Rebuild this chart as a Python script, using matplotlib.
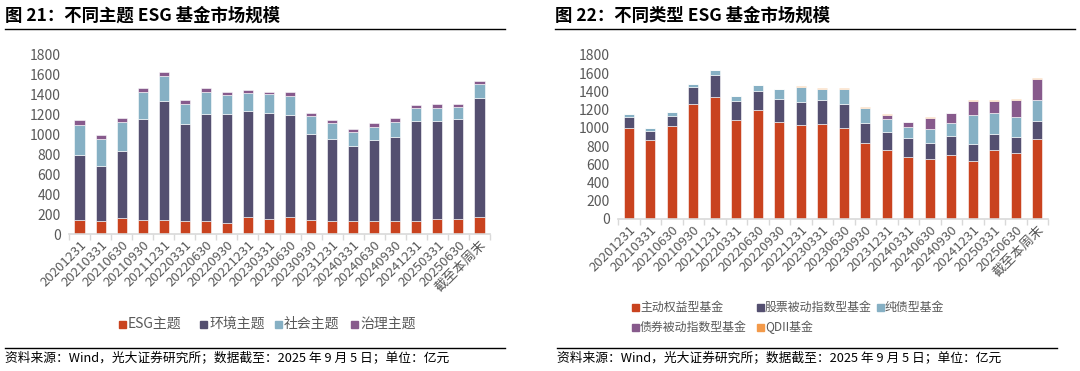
import numpy as np
import matplotlib
matplotlib.use('Agg')
import matplotlib.pyplot as plt
from matplotlib.patches import Rectangle

plt.rcParams['font.family'] = ['Noto Sans CJK SC', 'DejaVu Sans']

periods = ['20201231', '20210331', '20210630', '20210930', '20211231', '20220331',
           '20220630', '20220930', '20221231', '20230331', '20230630', '20230930',
           '20231231', '20240331', '20240630', '20240930', '20241231', '20250331',
           '20250630', '截至本周末']

# 图21：按主题（亿元）
esg_theme = [144, 134, 160, 144, 144, 127, 134, 114, 170, 150, 170, 144, 127, 134, 134, 134, 134, 147, 154, 170]
env_theme = [651, 551, 675, 1015, 1192, 979, 1075, 1088, 1066, 1066, 1022, 861, 825, 754, 811, 845, 998, 992, 998, 1193]
soc_theme = [301, 267, 294, 271, 254, 203, 221, 191, 180, 187, 194, 177, 164, 137, 134, 150, 137, 130, 127, 143]
gov_theme = [50, 40, 33, 40, 37, 37, 40, 30, 30, 27, 37, 34, 30, 34, 33, 33, 27, 34, 30, 37]

# 图22：按类型（亿元）
active_eq = [1004, 862, 1022, 1260, 1344, 1088, 1198, 1062, 1030, 1048, 1004, 836, 759, 683, 654, 705, 639, 759, 723, 876]
stock_idx = [113, 106, 113, 189, 241, 208, 208, 256, 255, 255, 263, 223, 201, 201, 182, 204, 182, 179, 179, 205]
pure_bond = [33, 29, 37, 30, 47, 59, 69, 113, 161, 125, 161, 160, 139, 131, 150, 146, 325, 230, 223, 222]
bond_idx = [0, 0, 0, 0, 0, 0, 0, 0, 0, 0, 0, 0, 47, 47, 128, 106, 150, 128, 186, 238]
qdii = [0, 0, 0, 0, 0, 0, 0, 0, 10, 10, 10, 11, 8, 8, 7, 7, 7, 7, 7, 7]

c_red = '#C9431F'
c_navy = '#544F70'
c_blue = '#86B0C4'
c_purple = '#875A8C'
c_orange = '#F39A4A'
grey = '#595959'

W, H = 1080, 371
fig = plt.figure(figsize=(10.8, 3.71), dpi=100)


def stacked(ax, series, colors, width):
    x = np.arange(len(periods))
    bottom = np.zeros(len(periods))
    for vals, col in zip(series, colors):
        v = np.array(vals, dtype=float)
        ax.bar(x, v, width, bottom=bottom, color=col, edgecolor='white', linewidth=0.4)
        bottom += v
    ax.set_xlim(-0.5, len(periods) - 0.5)
    ax.set_ylim(0, 1800)
    ax.set_yticks(range(0, 1801, 200))
    ax.set_xticks(x)
    ax.set_xticklabels(periods, rotation=45, ha='right', rotation_mode='anchor')
    ax.set_xticks(np.arange(-0.5, len(periods)), minor=True)
    ax.tick_params(axis='x', which='major', length=0, labelsize=9.5, colors=grey, pad=3)
    ax.tick_params(axis='x', which='minor', length=4, color='#D9D9D9', width=1)
    ax.tick_params(axis='y', length=0, labelsize=10, colors=grey, pad=6)
    for s in ['top', 'right', 'left']:
        ax.spines[s].set_visible(False)
    ax.spines['bottom'].set_color('#D9D9D9')
    ax.spines['bottom'].set_linewidth(1.2)


def legend_item(px, py, col, lab, size, gap=9):
    fig.add_artist(Rectangle((px / W, 1 - (py + 3.5) / H), 7 / W, 7 / H,
                             color=col, transform=fig.transFigure))
    fig.text((px + gap) / W, 1 - py / H, lab, color=grey, fontsize=size, va='center', ha='left')


# 左图
ax1 = fig.add_axes([69 / W, 1 - 234 / H, 421 / W, 179 / H])
stacked(ax1, [esg_theme, env_theme, soc_theme, gov_theme], [c_red, c_navy, c_blue, c_purple], 0.48)
lab1 = ['ESG主题', '环境主题', '社会主题', '治理主题']
col1 = [c_red, c_navy, c_blue, c_purple]
pos1 = [(119, 324), (200, 324), (275, 324), (351, 324)]
for (px, py), lab, col in zip(pos1, lab1, col1):
    legend_item(px, py, col, lab, 10)

# 右图
ax2 = fig.add_axes([618 / W, 1 - 219 / H, 430 / W, 164 / H])
stacked(ax2, [active_eq, stock_idx, pure_bond, bond_idx, qdii],
        [c_red, c_navy, c_blue, c_purple, c_orange], 0.46)
lab2 = ['主动权益型基金', '股票被动指数型基金', '纯债型基金', '债券被动指数型基金', 'QDII基金']
col2 = [c_red, c_navy, c_blue, c_purple, c_orange]
pos2 = [(632, 307), (757, 307), (877, 307), (632, 327), (757, 327)]
for (px, py), lab, col in zip(pos2, lab2, col2):
    legend_item(px, py, col, lab, 8.6, gap=8)

# 标题与注释
for x0, x1, title in [(5, 505, '图 21：不同主题 ESG 基金市场规模'),
                      (555, 1075, '图 22：不同类型 ESG 基金市场规模')]:
    fig.text(x0 / W, 1 - 16 / H, title, fontsize=12.5, fontweight='bold',
             color='black', va='center', ha='left')
    fig.add_artist(plt.Line2D([x0 / W, x1 / W], [1 - 28.5 / H] * 2, color='black', lw=1))

for x0, x1 in [(5, 505), (557, 1057)]:
    fig.add_artist(plt.Line2D([x0 / W, x1 / W], [1 - 348 / H] * 2, color='black', lw=1))
    fig.text(x0 / W, 1 - 358 / H, '资料来源：Wind，光大证券研究所；数据截至：2025 年 9 月 5 日；单位：亿元',
             fontsize=9.2, color='black', va='center', ha='left')

fig.savefig('out.png', dpi=100)
